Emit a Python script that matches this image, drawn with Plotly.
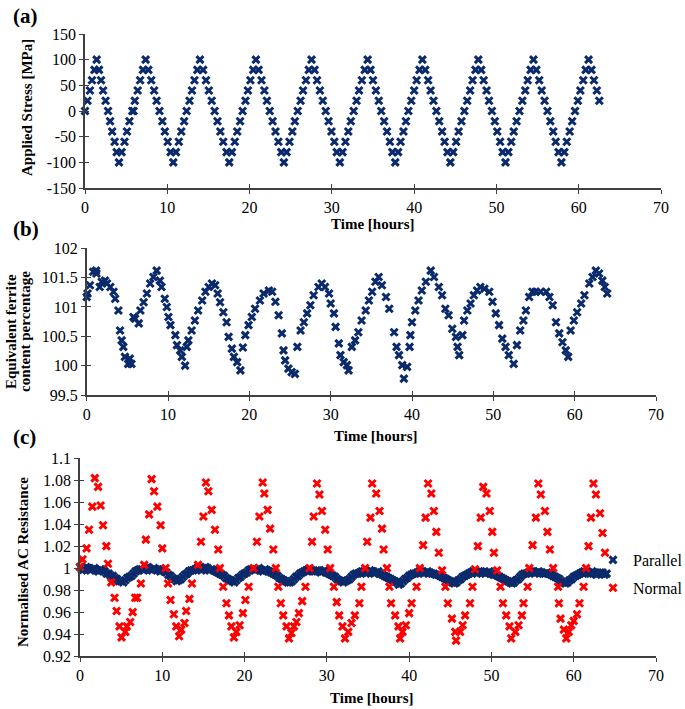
import plotly.graph_objects as go

# ---------------- data ----------------
stress_time = [
    0.0, 0.3, 0.6, 0.85, 1.15, 1.42,
    1.7, 1.95, 2.2, 2.5, 2.8, 3.05, 3.3, 3.6, 3.85, 4.13,
    4.45, 4.8, 5.1, 5.4, 5.75, 5.9, 6.05, 6.4, 6.7, 7.05, 7.37,
    7.7, 8.05, 8.4, 8.7, 9.05, 9.4, 9.7, 10.05, 10.4, 10.73,
    11.05, 11.4, 11.7, 12.05, 12.35, 12.7, 13.0, 13.3, 13.65, 13.97,
    14.35, 14.7, 15.05, 15.4, 15.75, 16.1, 16.45, 16.8, 17.2, 17.53,
    17.85, 18.2, 18.5, 18.85, 19.15, 19.5, 19.8, 20.1, 20.45, 20.77,
    21.1, 21.45, 21.8, 22.1, 22.45, 22.8, 23.15, 23.5, 23.85, 24.17,
    24.5, 24.85, 25.2, 25.5, 25.85, 26.2, 26.5, 26.85, 27.2, 27.53,
    27.9, 28.2, 28.55, 28.9, 29.25, 29.6, 29.95, 30.3, 30.6, 30.97,
    31.3, 31.65, 32.0, 32.3, 32.65, 33.0, 33.3, 33.65, 34.0, 34.35,
    34.7, 35.0, 35.35, 35.7, 36.0, 36.35, 36.7, 37.05, 37.35, 37.7,
    38.05, 38.35, 38.7, 39.0, 39.3, 39.65, 40.0, 40.3, 40.65, 41.0,
    41.35, 41.7, 42.0, 42.35, 42.7, 43.05, 43.4, 43.7, 44.05, 44.4,
    44.75, 45.1, 45.4, 45.75, 46.1, 46.45, 46.8, 47.1, 47.45, 47.8,
    48.15, 48.45, 48.8, 49.1, 49.45, 49.8, 50.1, 50.45, 50.75, 51.1,
    51.45, 51.8, 52.1, 52.45, 52.8, 53.15, 53.5, 53.8, 54.15, 54.5,
    54.85, 55.2, 55.5, 55.85, 56.2, 56.55, 56.9, 57.2, 57.55, 57.9,
    58.25, 58.55, 58.9, 59.2, 59.55, 59.9, 60.2, 60.55, 60.85, 61.2,
    61.55, 61.85, 62.2, 62.5,
]
stress_mpa = [
    0, 20, 40, 60, 80, 100,
    80, 60, 40, 20, 0, -20, -40, -60, -80, -100,
    -80, -60, -40, -20, 0, 0, 20, 40, 60, 80, 100,
    80, 60, 40, 20, 0, -20, -40, -60, -80, -100,
    -80, -60, -40, -20, 0, 20, 40, 60, 80, 100,
    80, 60, 40, 20, 0, -20, -40, -60, -80, -100,
    -80, -60, -40, -20, 0, 20, 40, 60, 80, 100,
    80, 60, 40, 20, 0, -20, -40, -60, -80, -100,
    -80, -60, -40, -20, 0, 20, 40, 60, 80, 100,
    80, 60, 40, 20, 0, -20, -40, -60, -80, -100,
    -80, -60, -40, -20, 0, 20, 40, 60, 80, 100,
    80, 60, 40, 20, 0, -20, -40, -60, -80, -100,
    -80, -60, -40, -20, 0, 20, 40, 60, 80, 100,
    80, 60, 40, 20, 0, -20, -40, -60, -80, -100,
    -80, -60, -40, -20, 0, 20, 40, 60, 80, 100,
    80, 60, 40, 20, 0, -20, -40, -60, -80, -100,
    -80, -60, -40, -20, 0, 20, 40, 60, 80, 100,
    80, 60, 40, 20, 0, -20, -40, -60, -80, -100,
    -80, -60, -40, -20, 0, 20, 40, 60, 80, 100,
    80, 60, 40, 20,
]

ferrite_time = [
    0.0, 0.1, 0.4, 0.8, 1.15, 1.2, 1.6, 1.85, 2.25, 2.5, 2.9, 3.3, 3.5, 3.9,
    4.1, 4.3, 4.5, 4.7, 5.1, 5.3, 5.5, 5.75, 5.95, 6.4, 6.6, 7.0, 7.4, 7.8,
    8.2, 8.6, 9.0, 9.2, 9.6, 9.85, 10.05, 10.3, 10.9, 11.1, 11.5, 11.7, 12.1,
    12.3, 12.5, 12.9, 13.3, 13.7, 14.2, 14.6, 15.0, 15.4, 15.8, 16.1, 16.4,
    16.8, 17.2, 17.45, 17.85, 18.1, 18.5, 18.9, 19.2, 19.5, 19.9, 20.3, 20.7,
    21.3, 21.75, 22.4, 22.8, 23.2, 23.6, 24.0, 24.2, 24.4, 24.8, 25.2, 25.6,
    25.9, 26.3, 26.7, 27.1, 27.5, 27.9, 28.5, 28.9, 29.3, 29.8, 30.0, 30.4,
    30.6, 31.0, 31.2, 31.6, 32.0, 32.2, 32.6, 33.0, 33.4, 33.8, 34.3, 34.7,
    35.1, 35.5, 35.9, 36.3, 36.8, 37.2, 37.8, 38.1, 38.4, 38.8, 39.0, 39.4,
    39.7, 39.8, 40.0, 40.4, 40.8, 41.2, 41.7, 42.3, 42.7, 43.3, 43.7, 44.1,
    44.5, 44.95, 45.4, 45.6, 45.8, 46.2, 46.4, 46.8, 47.2, 47.6, 48.0, 48.4,
    48.9, 49.5, 49.9, 50.3, 50.7, 51.1, 51.5, 51.9, 52.5, 52.9, 53.3, 53.7,
    54.0, 54.4, 54.8, 55.2, 55.8, 56.5, 56.9, 57.3, 57.7, 58.1, 58.5, 58.9,
    59.2, 59.5, 59.9, 60.3, 60.8, 61.2, 61.8, 62.2, 62.6, 63.0, 63.4, 63.7,
    64.0,
]
ferrite_pct = [
    101.17, 101.23, 101.37, 101.60, 101.62, 101.57, 101.34, 101.43, 101.45,
    101.40, 101.34, 101.26, 101.14, 100.94, 100.60, 100.43, 100.32, 100.15,
    100.03, 100.12, 100.03, 100.83, 100.80, 100.72, 100.94, 101.08, 101.23,
    101.40, 101.51, 101.62, 101.45, 101.34, 101.14, 101.00, 100.83, 100.69,
    100.52, 100.35, 100.26, 100.15, 100.00, 100.32, 100.43, 100.60, 100.77,
    100.94, 101.11, 101.26, 101.34, 101.40, 101.37, 101.23, 101.08, 100.91,
    100.74, 100.49, 100.29, 100.15, 100.06, 99.92, 100.31, 100.52, 100.69,
    100.83, 100.97, 101.11, 101.23, 101.28, 101.26, 101.09, 100.86, 100.55,
    100.26, 100.09, 99.95, 99.89, 99.86, 100.32, 100.60, 100.74, 100.89,
    101.03, 101.20, 101.34, 101.40, 101.34, 101.23, 101.06, 100.89, 100.66,
    100.38, 100.18, 100.06, 100.01, 99.92, 100.32, 100.43, 100.57, 100.77,
    100.94, 101.11, 101.26, 101.43, 101.51, 101.37, 101.17, 100.97, 100.57,
    100.32, 100.18, 100.01, 99.78, 99.98, 100.32, 100.52, 100.74, 100.94,
    101.11, 101.28, 101.43, 101.62, 101.51, 101.34, 101.20, 100.97, 100.86,
    100.63, 100.49, 100.32, 100.18, 100.52, 100.77, 100.94, 101.06, 101.20,
    101.28, 101.34, 101.31, 101.26, 101.09, 100.89, 100.69, 100.46, 100.32,
    100.18, 100.03, 100.35, 100.60, 100.77, 100.94, 101.17, 101.26, 101.26,
    101.26, 101.26, 101.17, 101.03, 100.74, 100.55, 100.40, 100.26, 100.15,
    100.60, 100.77, 100.91, 101.06, 101.20, 101.40, 101.51, 101.62, 101.57,
    101.45, 101.34, 101.23,
]

parallel_time = [
    0.0, 0.5, 1.0, 1.5, 2.0, 2.5, 3.0, 3.5, 4.0, 4.5, 5.0, 5.5, 6.0, 6.5,
    7.0, 7.5, 8.0, 8.5, 9.0, 9.5, 10.0, 10.5, 11.0, 11.5, 12.0, 12.5, 13.0,
    13.5, 14.0, 14.5, 15.0, 15.5, 16.0, 16.5, 17.0, 17.5, 18.0, 18.5, 19.0,
    19.5, 20.0, 20.5, 21.0, 21.5, 22.0, 22.5, 23.0, 23.5, 24.0, 24.5, 25.0,
    25.5, 26.0, 26.5, 27.0, 27.5, 28.0, 28.5, 29.0, 29.5, 30.0, 30.5, 31.0,
    31.5, 32.0, 32.5, 33.0, 33.5, 34.0, 34.5, 35.0, 35.5, 36.0, 36.5, 37.0,
    37.5, 38.0, 38.5, 39.0, 39.5, 40.0, 40.5, 41.0, 41.5, 42.0, 42.5, 43.0,
    43.5, 44.0, 44.5, 45.0, 45.5, 46.0, 46.5, 47.0, 47.5, 48.0, 48.5, 49.0,
    49.5, 50.0, 50.5, 51.0, 51.5, 52.0, 52.5, 53.0, 53.5, 54.0, 54.5, 55.0,
    55.5, 56.0, 56.5, 57.0, 57.5, 58.0, 58.5, 59.0, 59.5, 60.0, 60.5, 61.0,
    61.5, 62.0, 62.5, 63.0, 63.5, 64.0,
    0.25, 0.75, 1.25, 1.75, 2.25, 2.75, 3.25, 3.75, 4.25, 4.75, 5.25, 5.75,
    6.25, 6.75, 7.25, 7.75, 8.25, 8.75, 9.25, 9.75, 10.25, 10.75, 11.25,
    11.75, 12.25, 12.75, 13.25, 13.75, 14.25, 14.75, 15.25, 15.75, 16.25,
    16.75, 17.25, 17.75, 18.25, 18.75, 19.25, 19.75, 20.25, 20.75, 21.25,
    21.75, 22.25, 22.75, 23.25, 23.75, 24.25, 24.75, 25.25, 25.75, 26.25,
    26.75, 27.25, 27.75, 28.25, 28.75, 29.25, 29.75, 30.25, 30.75, 31.25,
    31.75, 32.25, 32.75, 33.25, 33.75, 34.25, 34.75, 35.25, 35.75, 36.25,
    36.75, 37.25, 37.75, 38.25, 38.75, 39.25, 39.75, 40.25, 40.75, 41.25,
    41.75, 42.25, 42.75, 43.25, 43.75, 44.25, 44.75, 45.25, 45.75, 46.25,
    46.75, 47.25, 47.75, 48.25, 48.75, 49.25, 49.75, 50.25, 50.75, 51.25,
    51.75, 52.25, 52.75, 53.25, 53.75, 54.25, 54.75, 55.25, 55.75, 56.25,
    56.75, 57.25, 57.75, 58.25, 58.75, 59.25, 59.75, 60.25, 60.75, 61.25,
    61.75, 62.25, 62.75, 63.25, 63.75,
]
parallel_res = [
    1.001, 0.999, 1.000, 0.999, 0.998, 0.999, 0.997, 0.995, 0.993, 0.990,
    0.988, 0.989, 0.992, 0.995, 0.998, 0.999, 1.000, 0.999, 1.000, 0.999,
    0.998, 0.996, 0.993, 0.990, 0.989, 0.992, 0.995, 0.998, 0.999, 1.000,
    0.999, 1.000, 0.999, 0.997, 0.995, 0.993, 0.990, 0.988, 0.989, 0.992,
    0.995, 0.998, 0.999, 0.999, 0.998, 0.999, 0.997, 0.995, 0.993, 0.990,
    0.988, 0.987, 0.990, 0.993, 0.996, 0.998, 0.998, 0.997, 0.998, 0.997,
    0.996, 0.994, 0.992, 0.989, 0.987, 0.989, 0.992, 0.995, 0.996, 0.997,
    0.996, 0.997, 0.996, 0.995, 0.993, 0.991, 0.989, 0.987, 0.986, 0.990,
    0.993, 0.995, 0.996, 0.997, 0.996, 0.996, 0.995, 0.994, 0.992, 0.990,
    0.988, 0.986, 0.989, 0.992, 0.994, 0.996, 0.996, 0.997, 0.996, 0.996,
    0.995, 0.994, 0.992, 0.990, 0.988, 0.986, 0.989, 0.992, 0.995, 0.996,
    0.997, 0.996, 0.996, 0.995, 0.995, 0.993, 0.991, 0.988, 0.986, 0.989,
    0.992, 0.994, 0.996, 0.996, 0.995, 0.996, 0.995, 0.996, 0.995,
    0.998, 1.001, 0.998, 1.000, 0.997, 0.998, 0.995, 0.993, 0.991, 0.988,
    0.987, 0.991, 0.993, 0.997, 0.999, 0.998, 1.001, 0.998, 0.999, 0.997,
    0.997, 0.994, 0.991, 0.988, 0.990, 0.994, 0.997, 0.998, 1.000, 0.998,
    1.001, 0.998, 0.998, 0.996, 0.994, 0.991, 0.989, 0.987, 0.991, 0.994,
    0.996, 0.999, 0.998, 1.000, 0.997, 0.998, 0.996, 0.994, 0.991, 0.989,
    0.987, 0.988, 0.992, 0.995, 0.997, 0.999, 0.997, 0.998, 0.996, 0.998,
    0.995, 0.993, 0.990, 0.988, 0.988, 0.990, 0.994, 0.995, 0.997, 0.995,
    0.998, 0.995, 0.997, 0.994, 0.992, 0.990, 0.988, 0.985, 0.988, 0.991,
    0.994, 0.995, 0.997, 0.995, 0.997, 0.995, 0.994, 0.993, 0.991, 0.989,
    0.987, 0.987, 0.990, 0.993, 0.995, 0.997, 0.995, 0.997, 0.995, 0.997,
    0.994, 0.993, 0.991, 0.989, 0.987, 0.987, 0.990, 0.994, 0.995, 0.997,
    0.995, 0.997, 0.995, 0.996, 0.994, 0.992, 0.990, 0.987, 0.987, 0.990,
    0.993, 0.995, 0.997, 0.995, 0.997, 0.994, 0.996, 0.994,
]

normal_time = [
    0.0, 0.3, 0.8, 1.1, 1.5, 1.8, 2.2, 2.5, 2.8, 3.2, 3.4, 3.8, 4.2, 4.45,
    4.8, 5.05, 5.5, 5.7, 6.1, 6.4, 6.7, 6.95, 7.4, 7.8, 8.0, 8.4, 8.7, 9.0,
    9.4, 9.8, 10.0, 10.4, 10.7, 11.0, 11.4, 11.7, 12.05, 12.3, 12.7, 12.9,
    13.3, 13.6, 14.35, 14.7, 15.0, 15.3, 15.6, 16.0, 16.4, 16.8, 17.0, 17.4,
    17.8, 18.1, 18.4, 18.7, 19.0, 19.4, 19.8, 20.1, 20.5, 21.1, 21.5, 21.8,
    22.2, 22.4, 22.8, 23.1, 23.5, 23.8, 24.1, 24.4, 24.7, 25.1, 25.4, 25.7,
    26.0, 26.3, 26.6, 27.0, 27.4, 27.9, 28.2, 28.4, 28.8, 29.1, 29.4, 29.8,
    30.1, 30.4, 30.85, 31.2, 31.5, 31.9, 32.2, 32.6, 33.0, 33.4, 33.95,
    34.2, 34.65, 34.9, 35.3, 35.5, 36.0, 36.4, 36.7, 36.9, 37.3, 37.6, 37.8,
    38.3, 38.7, 38.9, 39.2, 39.6, 40.0, 40.3, 40.9, 41.3, 41.7, 42.0, 42.3,
    42.7, 43.0, 43.3, 43.6, 44.0, 44.4, 44.7, 45.2, 45.6, 45.7, 46.2, 46.5,
    46.8, 47.4, 47.7, 48.0, 48.35, 48.7, 49.0, 49.4, 49.8, 50.1, 50.3, 50.7,
    51.1, 51.4, 51.8, 52.2, 52.4, 52.9, 53.3, 53.7, 53.9, 54.4, 54.6, 55.0,
    55.4, 55.7, 56.0, 56.5, 56.8, 57.1, 57.5, 58.1, 58.2, 58.4, 58.8, 59.1,
    59.4, 59.7, 60.0, 60.4, 60.7, 61.2, 61.5, 61.8, 62.1, 62.4, 62.7, 63.2,
    63.5, 63.8,
]
normal_res = [
    1.001, 1.008, 1.018, 1.035, 1.056, 1.082, 1.074, 1.057, 1.039, 1.020,
    1.004, 0.987, 0.973, 0.961, 0.947, 0.937, 0.942, 0.947, 0.951, 0.960,
    0.973, 0.973, 0.986, 1.003, 1.026, 1.049, 1.081, 1.070, 1.056, 1.039,
    1.018, 1.000, 0.986, 0.971, 0.958, 0.947, 0.938, 0.944, 0.950, 0.961,
    0.972, 0.986, 1.003, 1.024, 1.047, 1.078, 1.070, 1.053, 1.035, 1.017,
    1.000, 0.983, 0.968, 0.957, 0.947, 0.937, 0.942, 0.948, 0.959, 0.971,
    0.983, 1.000, 1.024, 1.047, 1.078, 1.068, 1.053, 1.036, 1.017, 1.000,
    0.983, 0.968, 0.957, 0.947, 0.936, 0.941, 0.947, 0.951, 0.959, 0.970,
    0.983, 1.000, 1.024, 1.047, 1.077, 1.067, 1.052, 1.035, 1.017, 1.000,
    0.983, 0.969, 0.957, 0.947, 0.936, 0.942, 0.950, 0.957, 0.968, 0.983,
    1.000, 1.024, 1.046, 1.077, 1.068, 1.052, 1.036, 1.017, 1.000, 0.983,
    0.968, 0.957, 0.947, 0.936, 0.942, 0.948, 0.959, 0.968, 0.983, 1.000,
    1.021, 1.046, 1.077, 1.068, 1.052, 1.033, 1.014, 0.998, 0.983, 0.968,
    0.954, 0.942, 0.934, 0.942, 0.948, 0.957, 0.968, 0.983, 0.999, 1.020,
    1.046, 1.074, 1.068, 1.052, 1.033, 1.014, 0.998, 0.983, 0.968, 0.957,
    0.947, 0.936, 0.942, 0.948, 0.957, 0.968, 0.983, 1.000, 1.021, 1.046,
    1.077, 1.067, 1.052, 1.033, 1.017, 1.000, 0.983, 0.968, 0.954, 0.944,
    0.936, 0.942, 0.948, 0.952, 0.958, 0.968, 0.983, 1.000, 1.020, 1.046,
    1.077, 1.067, 1.050, 1.032, 1.014,
]

time_ticks = [0, 10, 20, 30, 40, 50, 60, 70]
time_tick_text = ["0", "10", "20", "30", "40", "50", "60", "70"]
stress_ticks = [-150, -100, -50, 0, 50, 100, 150]
stress_tick_text = ["-150", "-100", "-50", "0", "50", "100", "150"]
ferrite_ticks = [99.5, 100, 100.5, 101, 101.5, 102]
ferrite_tick_text = ["99.5", "100", "100.5", "101", "101.5", "102"]
res_ticks = [0.92, 0.94, 0.96, 0.98, 1.0, 1.02, 1.04, 1.06, 1.08, 1.1]
res_tick_text = ["0.92", "0.94", "0.96", "0.98", "1", "1.02", "1.04", "1.06", "1.08", "1.1"]

# ---------------- styling ----------------
W, H = 685, 709
FONT = "Liberation Serif"
NAVY = "#0a2a6c"
RED = "#FF0000"
AXC = "#404040"


def fx(px):
    return px / W


def fy(py):
    return 1 - py / H


marker_navy = dict(symbol="x-thin", size=7, color=NAVY, line=dict(width=3, color=NAVY))
marker_red = dict(symbol="x-thin", size=7, color=RED, line=dict(width=3, color=RED))

fig = go.Figure()
fig.add_trace(go.Scatter(x=stress_time, y=stress_mpa, mode="markers", marker=marker_navy,
                         xaxis="x", yaxis="y", showlegend=False, cliponaxis=False))
fig.add_trace(go.Scatter(x=ferrite_time, y=ferrite_pct, mode="markers", marker=marker_navy,
                         xaxis="x2", yaxis="y2", showlegend=False, cliponaxis=False))
fig.add_trace(go.Scatter(x=parallel_time, y=parallel_res, mode="markers", marker=marker_navy,
                         xaxis="x3", yaxis="y3", name="Parallel", legendgroup="p",
                         cliponaxis=False))
fig.add_trace(go.Scatter(x=normal_time, y=normal_res, mode="markers", marker=marker_red,
                         xaxis="x3", yaxis="y3", name="Normal", legendgroup="n",
                         cliponaxis=False))

# empty helper traces so that the inside-tick overlay axes are drawn
for xa, ya in [("x4", "y"), ("x", "y4"), ("x5", "y2"), ("x2", "y5"), ("x6", "y3"), ("x3", "y6")]:
    fig.add_trace(go.Scatter(x=[], y=[], xaxis=xa, yaxis=ya, showlegend=False, hoverinfo="skip"))

panels = [
    # (x0px, x1px, ytop px, ybottom px, yrange, yticks, ytext)
    (85, 661, 34, 188, [-150, 150], stress_ticks, stress_tick_text),
    (86.7, 656, 248.3, 395, [99.5, 102], ferrite_ticks, ferrite_tick_text),
    (80, 656, 458.3, 656, [0.92, 1.1], res_ticks, res_tick_text),
]

tickfont = dict(family=FONT, size=16, color="black")
layout_axes = {}
for i, (x0, x1, yt, yb, yr, yt_vals, yt_text) in enumerate(panels):
    n = i + 1
    sx = "" if n == 1 else str(n)
    xdom = [fx(x0), fx(x1)]
    ydom = [fy(yb), fy(yt)]
    common = dict(showgrid=False, zeroline=False, fixedrange=True, automargin=False)
    layout_axes["xaxis" + sx] = dict(
        domain=xdom, anchor="y" + sx, range=[0, 70], tickmode="array",
        tickvals=time_ticks, ticktext=time_tick_text, showline=True, linecolor=AXC,
        linewidth=1.5, ticks="outside", ticklen=4, tickwidth=1.3, tickcolor=AXC,
        tickfont=tickfont, ticklabelstandoff=0, **common)
    layout_axes["yaxis" + sx] = dict(
        domain=ydom, anchor="x" + sx, range=yr, tickmode="array",
        tickvals=yt_vals, ticktext=yt_text, showline=True, linecolor=AXC,
        linewidth=1.5, ticks="outside", ticklen=4, tickwidth=1.3, tickcolor=AXC,
        tickfont=tickfont, ticklabelstandoff=0, **common)
    ox = str(n + 3)
    layout_axes["xaxis" + ox] = dict(
        domain=xdom, anchor="y" + sx, overlaying="x" + sx, range=[0, 70],
        tickmode="array", tickvals=time_ticks, showticklabels=False, showline=False,
        ticks="inside", ticklen=4, tickwidth=1.3, tickcolor=AXC, **common)
    layout_axes["yaxis" + ox] = dict(
        domain=ydom, anchor="x" + sx, overlaying="y" + sx, range=yr,
        tickmode="array", tickvals=yt_vals, showticklabels=False, showline=False,
        ticks="inside", ticklen=4, tickwidth=1.3, tickcolor=AXC, **common)

annotations = []


def ann(text, xpx, ypx, size=15, angle=0, xanchor="center"):
    annotations.append(dict(text=text, x=fx(xpx), y=fy(ypx), xref="paper", yref="paper",
                            showarrow=False, textangle=angle, xanchor=xanchor,
                            yanchor="middle", font=dict(family=FONT, size=size, color="black")))


ann("<b>(a)</b>", 11, 16, size=21, xanchor="left")
ann("<b>(b)</b>", 11, 229, size=21, xanchor="left")
ann("<b>(c)</b>", 11, 437, size=21, xanchor="left")
ann("<b>Applied Stress [MPa]</b>", 27, 108, angle=-90)
ann("<b>Equivalent ferrite</b>", 11, 332, angle=-90)
ann("<b>content percentage</b>", 25, 332, angle=-90)
ann("<b>Normalised AC Resistance</b>", 23, 562, angle=-90)
ann("<b>Time [hours]</b>", 372, 224)
ann("<b>Time [hours]</b>", 375, 436)
ann("<b>Time [hours]</b>", 371, 698)

fig.update_layout(
    width=W, height=H, autosize=False,
    margin=dict(l=0, r=0, t=0, b=0, pad=0, autoexpand=False),
    paper_bgcolor="white", plot_bgcolor="white",
    font=dict(family=FONT, size=16, color="black"),
    annotations=annotations,
    legend=dict(x=fx(593), y=fy(543), xanchor="left", yanchor="top",
                font=dict(family=FONT, size=16, color="black"),
                traceorder="grouped", tracegroupgap=4, bgcolor="rgba(0,0,0,0)",
                itemwidth=30),
    **layout_axes,
)

fig.write_html(
    "out.html",
    config={"displayModeBar": False},
    post_script="document.body.style.margin='0';document.body.style.overflow='hidden';",
)
